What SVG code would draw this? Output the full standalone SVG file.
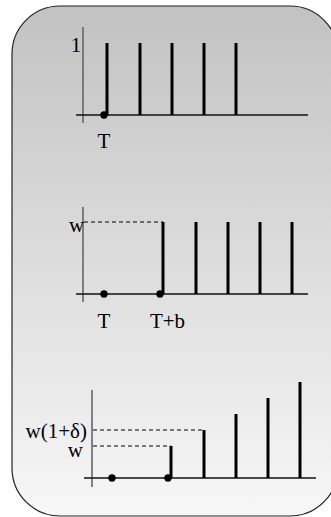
<svg xmlns="http://www.w3.org/2000/svg" width="331" height="517" viewBox="0 0 331 517">
<defs>
<linearGradient id="bg" x1="0" y1="0" x2="0" y2="1">
<stop offset="0" stop-color="#c2c2c2"/>
<stop offset="1" stop-color="#f7f7f7"/>
</linearGradient>
</defs>
<style>
.frame{fill:url(#bg);stroke:#222;stroke-width:1.2}
.vax{stroke:#666;stroke-width:1.6;fill:none}
.hax{stroke:#111;stroke-width:1.3;fill:none}
.spike{stroke:#000;stroke-width:3;fill:none}
.dash{stroke:#000;stroke-width:1;stroke-dasharray:4,3;fill:none}
.dot{fill:#000}
text{font-family:"Liberation Serif","Times New Roman",serif;font-size:21px;fill:#000}
</style>
<rect class="frame" x="12" y="6" width="326" height="510" rx="48" ry="48"/>
<g id="panel1">
<line class="vax" x1="83" y1="27" x2="83" y2="123"/>
<line class="hax" x1="76" y1="115" x2="308" y2="115"/>
<g class="spikes">
<line class="spike" x1="107" y1="43" x2="107" y2="115"/>
<line class="spike" x1="140" y1="43" x2="140" y2="115"/>
<line class="spike" x1="172" y1="43" x2="172" y2="115"/>
<line class="spike" x1="204" y1="43" x2="204" y2="115"/>
<line class="spike" x1="236" y1="43" x2="236" y2="115"/>
</g>
<circle class="dot" cx="104" cy="115" r="3.7"/>
<text x="76" y="52" text-anchor="middle">1</text>
<text x="104" y="148" text-anchor="middle">T</text>
</g>
<g id="panel2">
<line class="vax" x1="83" y1="207" x2="83" y2="302"/>
<line class="hax" x1="76" y1="294" x2="308" y2="294"/>
<line class="dash" x1="84" y1="222" x2="163" y2="222"/>
<line class="spike" x1="163" y1="222" x2="163" y2="294"/>
<line class="spike" x1="196" y1="222" x2="196" y2="294"/>
<line class="spike" x1="228" y1="222" x2="228" y2="294"/>
<line class="spike" x1="260" y1="222" x2="260" y2="294"/>
<line class="spike" x1="292" y1="222" x2="292" y2="294"/>
<circle class="dot" cx="104" cy="294" r="3.7"/>
<circle class="dot" cx="160" cy="294" r="3.7"/>
<text x="76.5" y="232" text-anchor="middle">w</text>
<text x="104" y="328" text-anchor="middle">T</text>
<text x="167.5" y="328" text-anchor="middle">T+b</text>
</g>
<g id="panel3">
<line class="vax" x1="92" y1="390" x2="92" y2="487"/>
<line class="hax" x1="84" y1="478" x2="316" y2="478"/>
<line class="dash" x1="93" y1="430" x2="204" y2="430"/>
<line class="dash" x1="93" y1="446" x2="171" y2="446"/>
<line class="spike" x1="171" y1="446" x2="171" y2="478"/>
<line class="spike" x1="204" y1="430" x2="204" y2="478"/>
<line class="spike" x1="236" y1="414" x2="236" y2="478"/>
<line class="spike" x1="268" y1="398" x2="268" y2="478"/>
<line class="spike" x1="300" y1="382" x2="300" y2="478"/>
<circle class="dot" cx="112" cy="478" r="3.7"/>
<circle class="dot" cx="168" cy="478" r="3.7"/>
<text x="87" y="438" text-anchor="end">w(1+δ)</text>
<text x="83" y="457" text-anchor="end">w</text>
</g>
</svg>
